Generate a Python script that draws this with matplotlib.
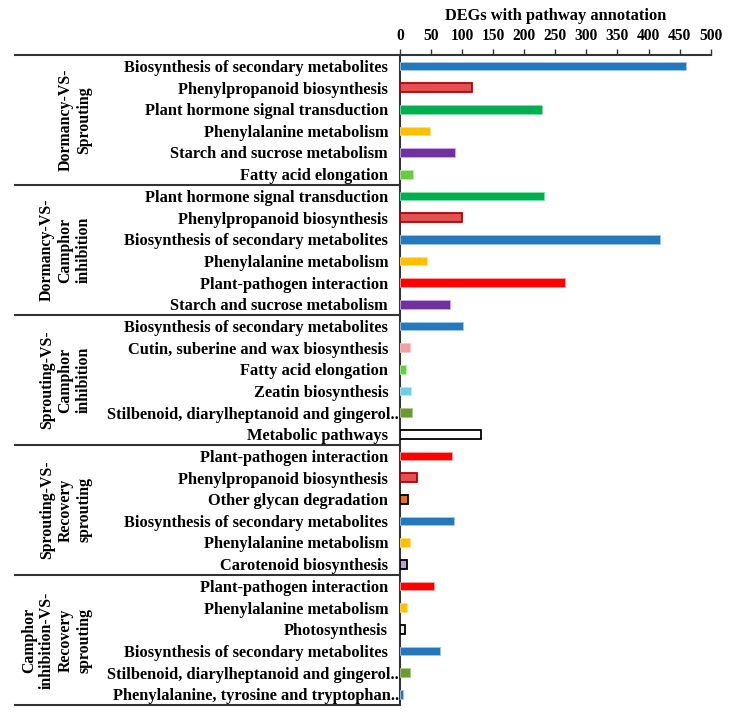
import matplotlib
matplotlib.use("Agg")
import matplotlib.pyplot as plt
import matplotlib.transforms as mtransforms

# ---------------- data ----------------
groups = [
    "Dormancy-VS-\nSprouting",
    "Dormancy-VS-\nCamphor\ninhibition",
    "Sprouting-VS-\nCamphor\ninhibition",
    "Sprouting-VS-\nRecovery\nsprouting",
    "Camphor\ninhibition-VS-\nRecovery\nsprouting",
]

g1_paths = ["Biosynthesis of secondary metabolites", "Phenylpropanoid biosynthesis",
            "Plant hormone signal transduction", "Phenylalanine metabolism",
            "Starch and sucrose metabolism", "Fatty acid elongation"]
g1_vals = [461, 116, 228, 48, 89, 21]

g2_paths = ["Plant hormone signal transduction", "Phenylpropanoid biosynthesis",
            "Biosynthesis of secondary metabolites", "Phenylalanine metabolism",
            "Plant-pathogen interaction", "Starch and sucrose metabolism"]
g2_vals = [231, 100, 418, 44, 265, 80]

g3_paths = ["Biosynthesis of secondary metabolites", "Cutin, suberine and wax biosynthesis",
            "Fatty acid elongation", "Zeatin biosynthesis",
            "Stilbenoid, diarylheptanoid and gingerol..", "Metabolic pathways"]
g3_vals = [101, 16, 9, 18, 20, 130]

g4_paths = ["Plant-pathogen interaction", "Phenylpropanoid biosynthesis",
            "Other glycan degradation", "Biosynthesis of secondary metabolites",
            "Phenylalanine metabolism", "Carotenoid biosynthesis"]
g4_vals = [84, 27, 13, 87, 16, 12]

g5_paths = ["Plant-pathogen interaction", "Phenylalanine metabolism", "Photosynthesis",
            "Biosynthesis of secondary metabolites",
            "Stilbenoid, diarylheptanoid and gingerol..",
            "Phenylalanine, tyrosine and tryptophan.."]
g5_vals = [55, 12, 8, 65, 16, 5]

xticks = [0, 50, 100, 150, 200, 250, 300, 350, 400, 450, 500]

# pathway -> (fill, edge)
styles = {
    "Biosynthesis of secondary metabolites": ("#2479BD", "#9CC8EA"),
    "Phenylpropanoid biosynthesis": ("#E05252", "#B80000"),
    "Plant hormone signal transduction": ("#00B050", "#7FE0A8"),
    "Phenylalanine metabolism": ("#FFC000", "#FFE080"),
    "Starch and sucrose metabolism": ("#7030A0", "#D0A8F0"),
    "Fatty acid elongation": ("#66CC44", "#B8F0A0"),
    "Plant-pathogen interaction": ("#FF0000", "#FFA0A0"),
    "Cutin, suberine and wax biosynthesis": ("#F4A0A0", "#F8C8C8"),
    "Zeatin biosynthesis": ("#6CCFE6", "#B8E8F4"),
    "Stilbenoid, diarylheptanoid and gingerol..": ("#6A9A30", "#A8C890"),
    "Metabolic pathways": ("#FFFFFF", "#000000"),
    "Other glycan degradation": ("#F07010", "#000000"),
    "Carotenoid biosynthesis": ("#B4A4CC", "#000000"),
    "Photosynthesis": ("#EEEEE0", "#000000"),
    "Phenylalanine, tyrosine and tryptophan..": ("#2E75B6", "#9CC8EA"),
}

all_paths = g1_paths + g2_paths + g3_paths + g4_paths + g5_paths
all_vals = g1_vals + g2_vals + g3_vals + g4_vals + g5_vals
group_sizes = [len(g1_paths), len(g2_paths), len(g3_paths), len(g4_paths), len(g5_paths)]

# ---------------- plot ----------------
plt.rcParams['font.family'] = ['Liberation Serif', 'DejaVu Serif']
plt.rcParams['font.weight'] = 'bold'
FS = 11.8

fig = plt.figure(figsize=(7.35, 7.14), dpi=100)
ax = fig.add_axes([400 / 735, 1 - 705 / 714, 310.7 / 735, 650 / 714])

n = len(all_paths)
ypos = list(range(n))
fills = [styles[p][0] for p in all_paths]
edges = [styles[p][1] for p in all_paths]
black_edge = [styles[p][1] == "#000000" or p == "Phenylpropanoid biosynthesis" for p in all_paths]
lws = [1.3 if b else 0.6 for b in black_edge]
ax.barh(ypos, all_vals, height=0.4, color=fills, edgecolor=edges, linewidth=lws, zorder=3)

ax.set_xlim(0, 500)
ax.set_ylim(n - 0.5, -0.5)
ax.set_yticks(ypos)
ax.set_yticklabels(all_paths, fontsize=FS, fontweight='bold')
ax.tick_params(axis='y', length=0, pad=8.5)
for lab in ax.get_yticklabels():
    if lab.get_text().endswith(".."):
        lab.set_transform(lab.get_transform() +
                          mtransforms.ScaledTranslation(11 / 100, 0, fig.dpi_scale_trans))

ax.xaxis.tick_top()
ax.xaxis.set_label_position('top')
ax.set_xticks(xticks)
ax.set_xticklabels([str(t) for t in xticks], fontsize=11.2, fontweight='bold')
ax.tick_params(axis='x', direction='out', length=4, width=1, pad=4, color='#333333')
ax.set_xlabel("DEGs with pathway annotation", fontsize=FS, fontweight='bold', labelpad=6)

for s in ['right', 'bottom']:
    ax.spines[s].set_visible(False)
for s in ['top', 'left']:
    ax.spines[s].set_linewidth(1.5)
    ax.spines[s].set_color('#333333')

trans = mtransforms.blended_transform_factory(ax.transAxes, ax.transData)
x_left = (14 - 400) / 310.7
x_lab = (92 - 400) / 310.7
start = 0
bounds = [-0.5]
for g, sz in zip(groups, group_sizes):
    end = start + sz
    bounds.append(end - 0.5)
    ax.text(x_lab, (start + end - 1) / 2, g, transform=trans, rotation=90,
            ha='right', va='center', multialignment='center',
            fontsize=11.4, fontweight='bold', linespacing=1.2)
    start = end
for b in bounds:
    ax.plot([x_left, 0], [b, b], transform=trans, color='#333333', lw=1.5,
            clip_on=False, solid_capstyle='butt')

fig.savefig("out.png", dpi=100, facecolor='white')
